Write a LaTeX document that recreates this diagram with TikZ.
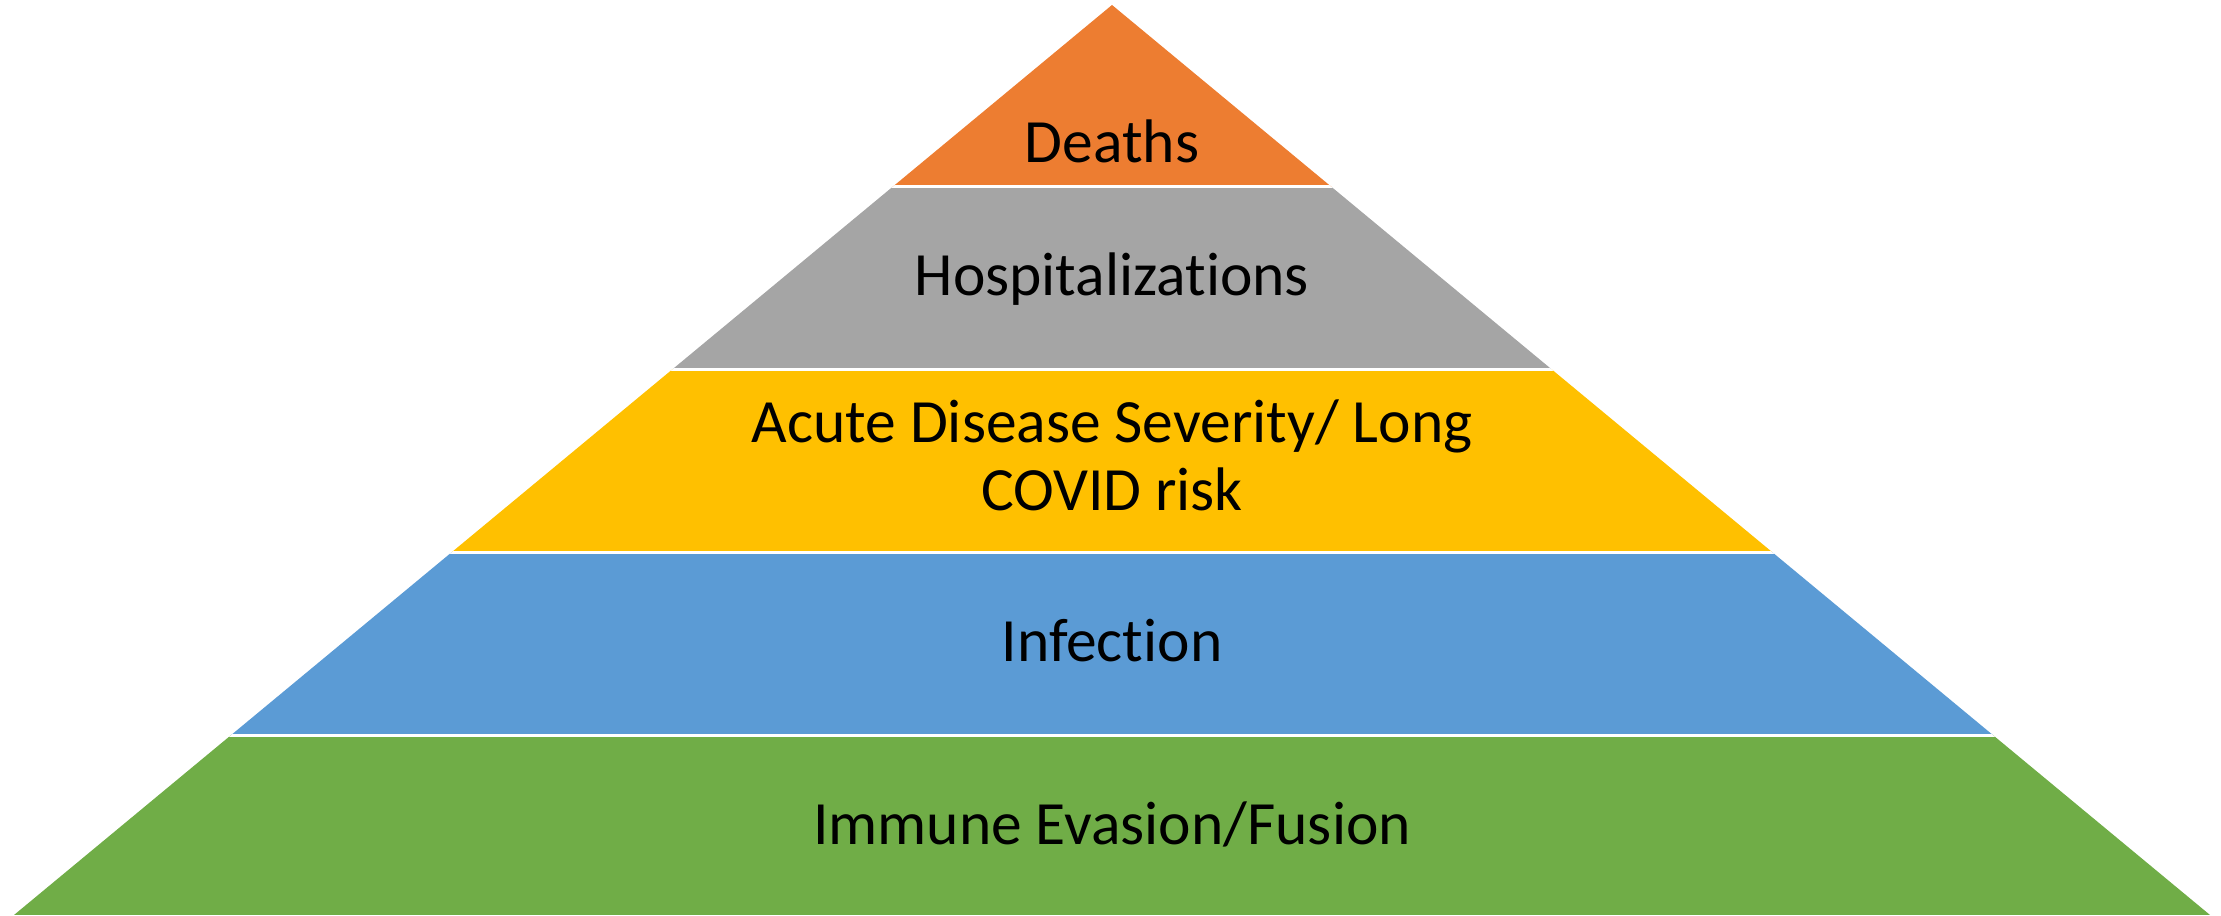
\documentclass[tikz,border=0pt]{standalone}
\usepackage{fontspec}
\setmainfont[Ligatures={NoCommon}]{Carlito}
\definecolor{tierorange}{HTML}{ED7D31}
\definecolor{tiergray}{HTML}{A5A5A5}
\definecolor{tieryellow}{HTML}{FFC000}
\definecolor{tierblue}{HTML}{5B9BD5}
\definecolor{tiergreen}{HTML}{70AD47}
\tikzset{
  tierlabel/.style={font=\fontsize{17.5}{19.6}\selectfont, text=black, align=center, inner sep=0pt},
  tiergap/.style={draw=white, line width=0.03cm}
}
\begin{document}
\begin{tikzpicture}[x=1cm,y=1cm]
\useasboundingbox (0,0) rectangle (22.21,9.15);
% pyramid outline: apex and base corners
\coordinate (apex) at (11.12,9.10);
\coordinate (bl) at (0.14,0);
\coordinate (br) at (22.10,0);
\begin{scope}
  \clip (bl) -- (apex) -- (br) -- cycle;
  \fill[tiergreen]  (0,0)     rectangle (22.21,1.80);
  \fill[tierblue]   (0,1.80)  rectangle (22.21,3.627);
  \fill[tieryellow] (0,3.627) rectangle (22.21,5.455);
  \fill[tiergray]   (0,5.455) rectangle (22.21,7.283);
  \fill[tierorange] (0,7.283) rectangle (22.21,9.15);
  % white separators between the tiers
  \foreach \yy in {1.80,3.627,5.455,7.283}
    \draw[tiergap] (0,\yy) -- (22.21,\yy);
\end{scope}
\node[tierlabel, anchor=base] (deaths) at (11.12,7.523) {Deaths};
\node[tierlabel, anchor=base] (hosp) at (11.12,6.19) {Hospitalizations};
\node[tierlabel, anchor=base] (acute1) at (11.12,4.72) {Acute Disease Severity/ Long};
\node[tierlabel, anchor=base] (acute2) at (11.12,4.04) {COVID risk};
\node[tierlabel, anchor=base] (infection) at (11.12,2.54) {Infection};
\node[tierlabel, anchor=base] (immune) at (11.12,0.71) {Immune Evasion/Fusion};
\end{tikzpicture}
\end{document}
